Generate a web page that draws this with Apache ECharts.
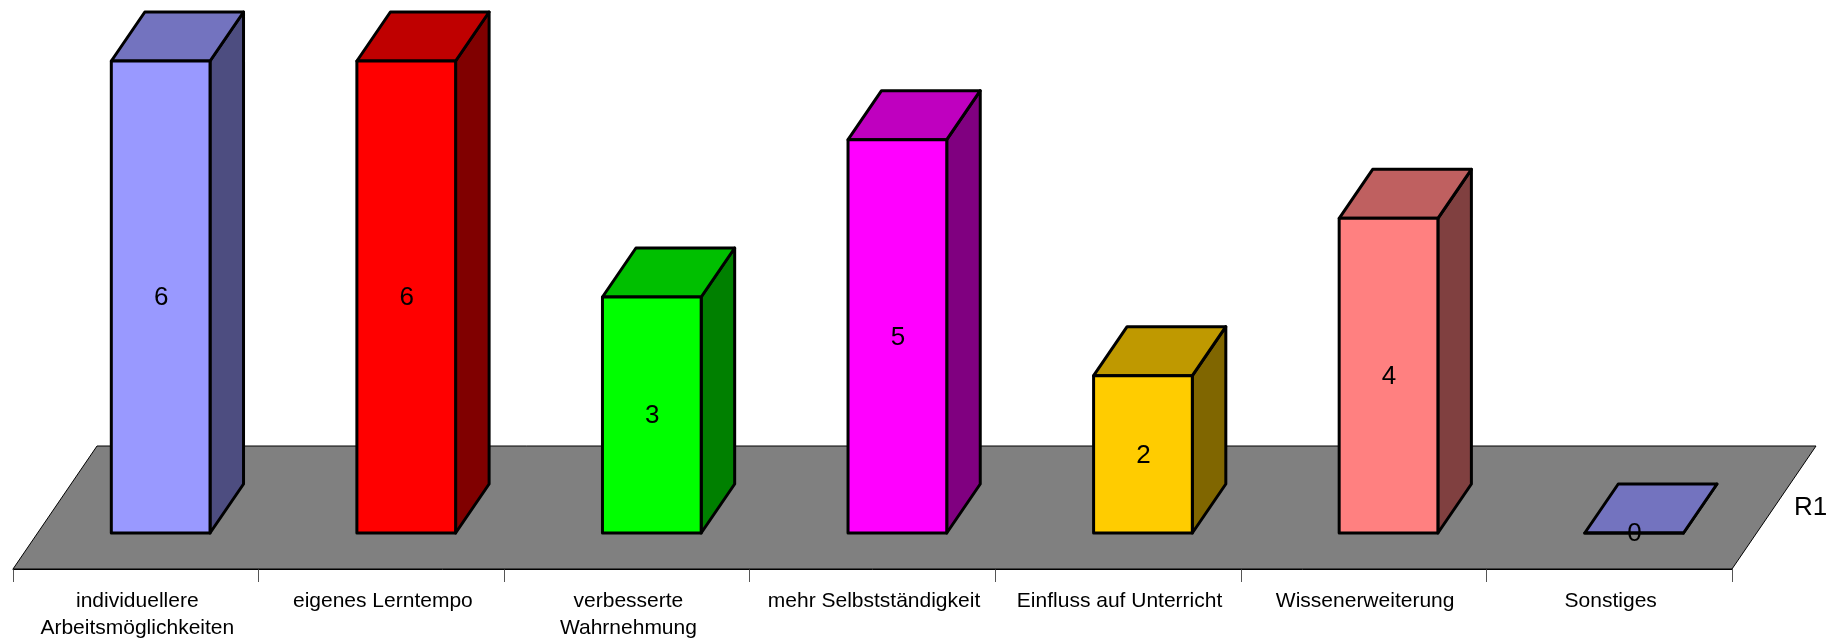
<!DOCTYPE html>
<html>
<head>
<meta charset="utf-8">
<title>Chart</title>
<script src="https://cdn.jsdelivr.net/npm/echarts@6/dist/echarts.min.js"></script>
<style>
  html, body { margin: 0; padding: 0; background: #fff; }
  #chart { width: 1836px; height: 639px; }
</style>
</head>
<body>
<div id="chart"></div>
<script>
const categories = [
  'individuellere\nArbeitsmöglichkeiten',
  'eigenes Lerntempo',
  'verbesserte\nWahrnehmung',
  'mehr Selbstständigkeit',
  'Einfluss auf Unterricht',
  'Wissenerweiterung',
  'Sonstiges'
]
const values = [6, 6, 3, 5, 2, 4, 0]
const seriesName = 'R1'

// front / top / side shade per bar
const frontColors = ['#9999ff', '#ff0000', '#00ff00', '#ff00ff', '#ffcc00', '#ff8080', '#9999ff']
const topColors = ['#7373bf', '#bf0000', '#00bf00', '#bf00bf', '#bf9900', '#bf6060', '#7373bf']
const sideColors = ['#4d4d80', '#800000', '#008000', '#800080', '#806600', '#804040', '#4d4d80']

const fontFamily = '"Liberation Sans", Arial, sans-serif'
// fake 3D: how far the back of a bar / of the floor is shifted
const barDepth = { x: 33.5, y: 49 }
const floorDepth = { x: 84, y: 123 }
const floorFront = 36 // floor front edge below the bar baseline
const barRatio = 0.402

const chart = echarts.init(document.getElementById('chart'))

function renderFloor(params, api) {
  const grid = params.coordSys
  const y = api.coord([0, 0])[1] + floorFront
  const l = grid.x
  const r = grid.x + grid.width
  return {
    type: 'polygon',
    shape: {
      points: [
        [l, y],
        [r, y],
        [r + floorDepth.x, y - floorDepth.y],
        [l + floorDepth.x, y - floorDepth.y]
      ]
    },
    style: { fill: '#808080', stroke: '#000', lineWidth: 1 }
  }
}

function renderBar(params, api) {
  const i = api.value(0)
  const top = api.coord([i, api.value(1)])
  const base = api.coord([i, 0])
  const w = api.size([1, 0])[0] * barRatio
  // bars stand in the middle of the floor, so they follow its shear
  const shift = floorDepth.x * floorFront / floorDepth.y
  const l = top[0] + shift - w / 2 + 0.3
  const r = l + w
  const t = top[1]
  const b = base[1]
  const dx = barDepth.x
  const dy = barDepth.y
  const edge = { stroke: '#000', lineWidth: 3, lineJoin: 'round' }
  return {
    type: 'group',
    children: [
      {
        type: 'polygon',
        shape: { points: [[r, t], [r + dx, t - dy], [r + dx, b - dy], [r, b]] },
        style: Object.assign({ fill: sideColors[i] }, edge)
      },
      {
        type: 'polygon',
        shape: { points: [[l, t], [l + dx, t - dy], [r + dx, t - dy], [r, t]] },
        style: Object.assign({ fill: topColors[i] }, edge)
      },
      {
        type: 'polygon',
        shape: { points: [[l, t], [r, t], [r, b], [l, b]] },
        style: Object.assign({ fill: frontColors[i] }, edge)
      },
      {
        type: 'text',
        style: {
          x: (l + r) / 2 + 0.5,
          y: (t + b) / 2 + 1,
          text: String(api.value(1)),
          fill: '#000',
          font: '26px ' + fontFamily,
          align: 'center',
          verticalAlign: 'middle'
        }
      }
    ]
  }
}

chart.setOption({
  animation: false,
  backgroundColor: '#fff',
  grid: { left: 13, right: 104, top: 61, bottom: 106, outerBoundsMode: 'none' },
  xAxis: {
    type: 'category',
    data: categories,
    offset: 36,
    axisLine: { show: true, onZero: false, lineStyle: { color: '#000', width: 1 } },
    axisTick: { show: true, length: 13, lineStyle: { color: '#555', width: 1 } },
    axisLabel: {
      interval: 0,
      color: '#000',
      fontFamily: fontFamily,
      fontSize: 21,
      lineHeight: 27,
      margin: 19,
      padding: [0, 0, 0, 3]
    }
  },
  yAxis: { type: 'value', min: 0, max: 6, show: false },
  series: [
    {
      type: 'custom',
      name: 'floor',
      z: 1,
      silent: true,
      renderItem: renderFloor,
      data: [[0, 0]],
      encode: { x: 0, y: 1 }
    },
    {
      type: 'custom',
      name: seriesName,
      z: 3,
      renderItem: renderBar,
      data: values.map((v, i) => [i, v]),
      encode: { x: 0, y: 1 }
    }
  ],
  graphic: [{
    type: 'text',
    left: 1794,
    top: 495,
    style: { text: seriesName, fill: '#000', font: '26px ' + fontFamily }
  }]
})
</script>
</body>
</html>
